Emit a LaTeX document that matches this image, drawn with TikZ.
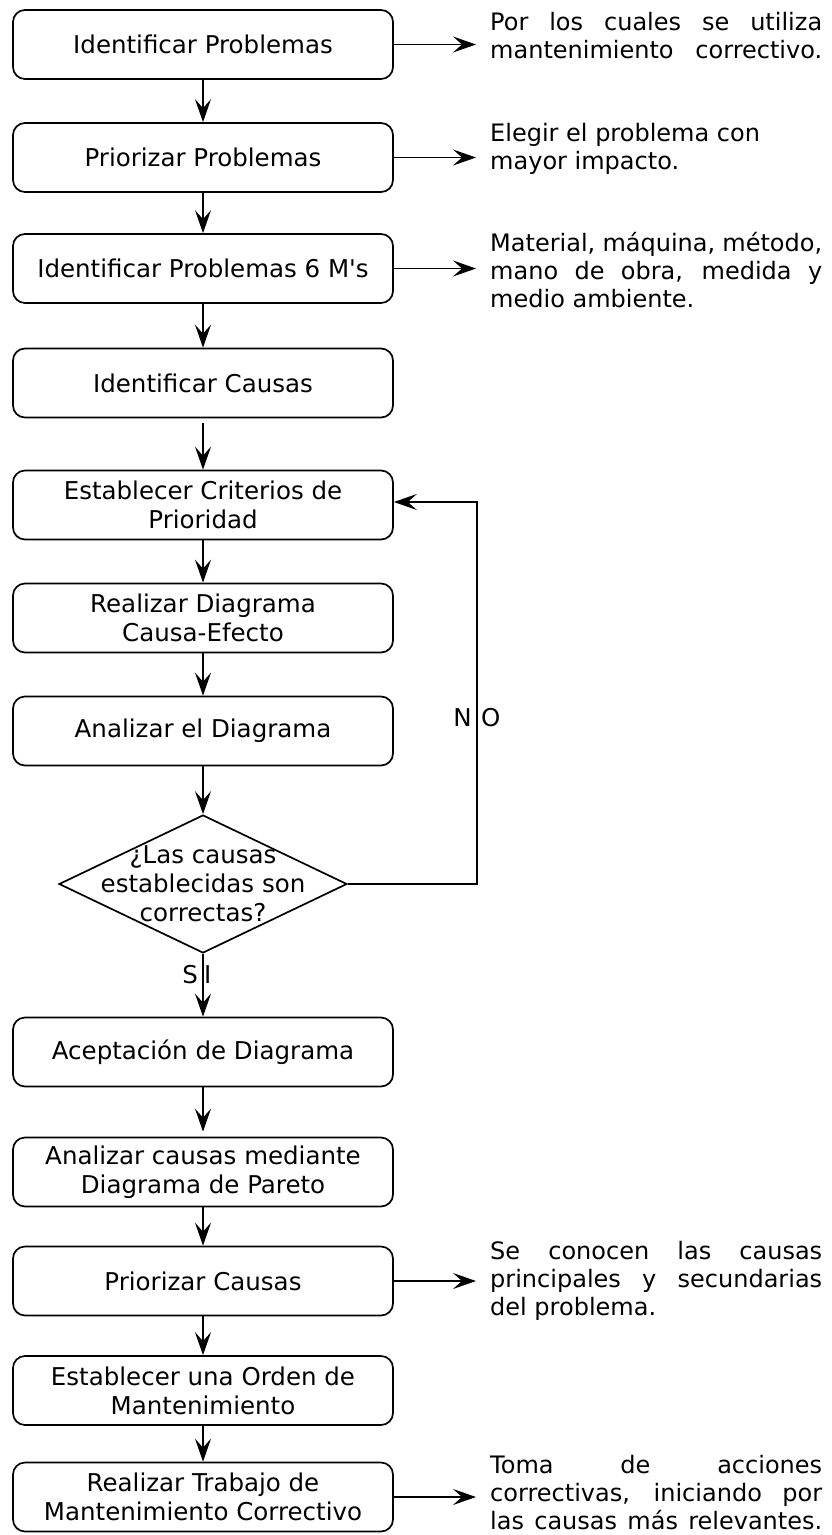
\documentclass[tikz,border=0pt]{standalone}
\usepackage{fontspec}
\setmainfont{DejaVu Sans}[Ligatures=TeXOff]
\usetikzlibrary{shapes.geometric,arrows.meta}
\newcommand\jl[1]{\makebox[332pt][s]{#1}}
\begin{document}
\begin{tikzpicture}[x=1pt,y=-1pt,
  box/.style={draw, rounded corners=12pt, minimum width=380pt, minimum height=69pt, inner sep=0pt, align=center, font=\fontsize{24.5}{29}\selectfont, line width=1.7pt},
  note/.style={anchor=west, inner sep=0pt, align=left, font=\fontsize{24}{28}\selectfont},
  arr/.style={-{Stealth[length=23pt,width=16pt,inset=9pt]}, line width=1.7pt},
  lbl/.style={inner sep=0pt, font=\fontsize{24.5}{29}\selectfont}]
\useasboundingbox (0,0) rectangle (832,1535);

% main boxes
\node[box] (b1) at (203,44.5) {Identificar Problemas};
\node[box] (b2) at (203,157.5) {Priorizar Problemas};
\node[box] (b3) at (203,268.5) {Identificar Problemas 6 M's};
\node[box] (b4) at (203,383) {Identificar Causas};
\node[box] (b5) at (203,505) {Establecer Criterios de\\Prioridad};
\node[box] (b6) at (203,618) {Realizar Diagrama\\Causa-Efecto};
\node[box] (b7) at (203,731) {Analizar el Diagrama};
\node[diamond, draw, line width=1.7pt, minimum width=288pt, minimum height=138pt, inner sep=0pt] (d) at (203,884) {};
\node[lbl, align=center] (dt) at (d.center) {¿Las causas\\establecidas son\\correctas?};
\node[box] (b8) at (203,1052) {Aceptación de Diagrama};
\node[box] (b9) at (203,1172) {Analizar causas mediante\\Diagrama de Pareto};
\node[box] (b10) at (203,1281) {Priorizar Causas};
\node[box] (b11) at (203,1390.5) {Establecer una Orden de\\Mantenimiento};
\node[box] (b12) at (203,1497) {Realizar Trabajo de\\Mantenimiento Correctivo};

% notes
\node[note] (n1) at (490,36) {\jl{Por los cuales se utiliza}\\\jl{mantenimiento correctivo.}};
\node[note] (n2) at (490,149) {Elegir el problema con\\mayor impacto.};
\node[note] (n3) at (490,270) {\jl{Material, máquina, método,}\\\jl{mano de obra, medida y}\\medio ambiente.};
\node[note] (n4) at (490,1281) {\jl{Se conocen las causas}\\\jl{principales y secundarias}\\del problema.};
\node[note] (n5) at (490,1493) {\jl{Toma de acciones}\\\jl{correctivas, iniciando por}\\\jl{las causas más relevantes.}};

% free ends of side arrows
\coordinate (e1) at (476,44.5);
\coordinate (e2) at (476,157.5);
\coordinate (e3) at (476,268.5);
\coordinate (e10) at (476,1281);
\coordinate (e12) at (476,1497);

% flow arrows
\draw[arr] (b1) -- (b2);
\draw[arr] (b2) -- (b3);
\draw[arr] (b3) -- (b4);
\draw[arr, shorten <=5pt] (b4) -- (b5);
\draw[arr] (b5) -- (b6);
\draw[arr] (b6) -- (b7);
\draw[arr] (b7) -- (d);
\draw[arr] (d) -- (b8);
\draw[arr, shorten >=5pt] (b8) -- (b9);
\draw[arr] (b9) -- (b10);
\draw[arr] (b10) -- (b11);
\draw[arr] (b11) -- (b12);

% side arrows
\draw[arr] (b1.east) -- (e1);
\draw[arr] (b2.east) -- (e2);
\draw[arr] (b3.east) -- (e3);
\draw[arr] (b10.east) -- (e10);
\draw[arr] (b12.east) -- (e12);

% NO loop
\coordinate (l1) at (477,884);
\coordinate (l2) at (477,502);
\draw[arr] (d.east) -- (l1) -- (l2) -- (l2 -| b5.east);

% labels
\node[lbl, anchor=east] (nN) at (472,718) {N};
\node[lbl, anchor=west] (nO) at (481,718) {O};
\node[lbl, anchor=east] (sS) at (198,975) {S};
\node[lbl, anchor=west] (sI) at (204,975) {I};
\end{tikzpicture}
\end{document}
